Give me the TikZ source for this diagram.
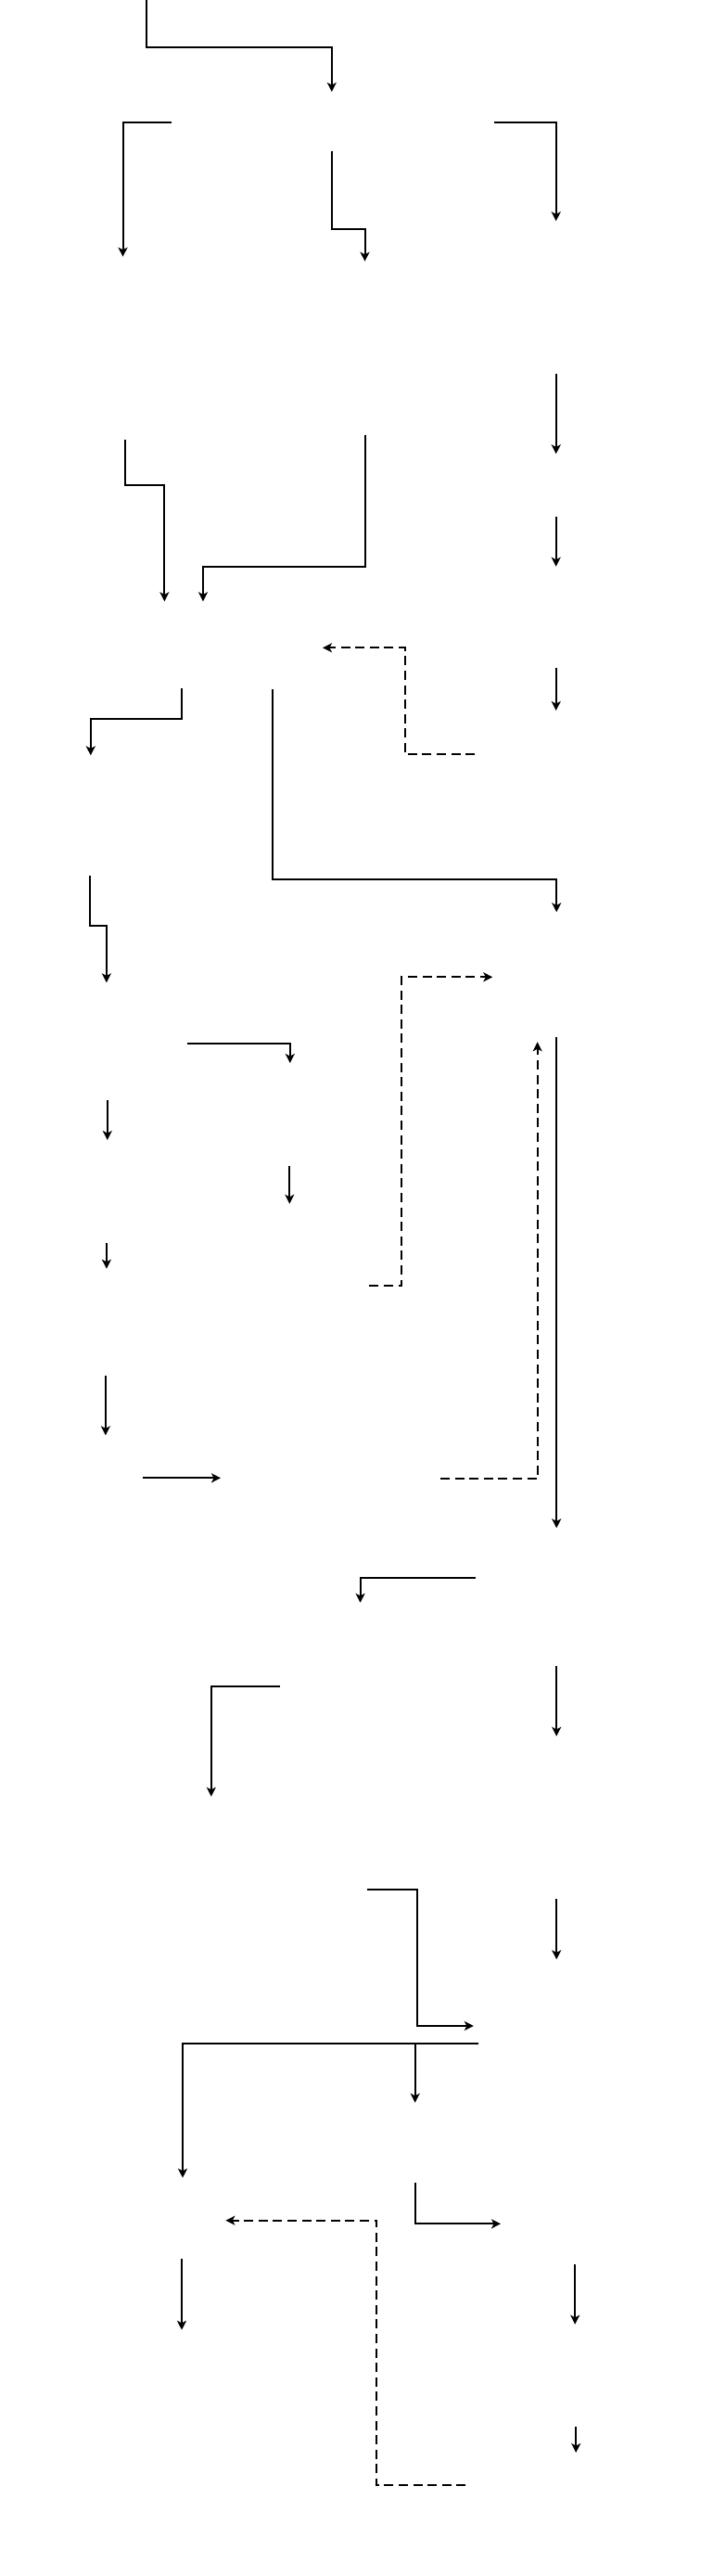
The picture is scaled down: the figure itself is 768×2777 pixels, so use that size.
\documentclass[tikz,border=0pt]{standalone}
\usetikzlibrary{arrows.meta}
\begin{document}
\begin{tikzpicture}[x=0.5pt,y=-0.5pt,
  conn/.style={line width=1pt,-{Stealth[length=5pt,width=5pt,inset=1.3pt]}},
  dconn/.style={conn,dash pattern=on 5pt off 2.8pt}]
\useasboundingbox (0,0) rectangle (768,2777);
% connector end points (nodes carry no visible text)
\coordinate (a1) at (158.4,0);     \coordinate (b1) at (357.8,99);
\coordinate (a2) at (184.7,132);   \coordinate (b2) at (132.5,276.7);
\coordinate (a3) at (357.8,162.7); \coordinate (b3) at (393.5,281.7);
\coordinate (a4) at (532.7,132);   \coordinate (b4) at (599.7,238.3);
\coordinate (a5) at (599.7,403.3); \coordinate (b5) at (599.7,489.3);
\coordinate (a6) at (135.4,474);   \coordinate (b6) at (177.4,648.3);
\coordinate (a7) at (393.5,469.3); \coordinate (b7) at (219,648.3);
\coordinate (a8) at (599.7,557.3); \coordinate (b8) at (599.7,610.7);
\coordinate (a9) at (512.2,813.3); \coordinate (b9) at (348,698.3);
\coordinate (a10) at (599.7,720);  \coordinate (b10) at (599.7,766);
\coordinate (a11) at (195.5,742.3);\coordinate (b11) at (97.8,814.3);
\coordinate (a12) at (293.7,743.3);\coordinate (b12) at (600.2,983.3);
\coordinate (a13) at (96.8,943.7); \coordinate (b13) at (114.9,1059.3);
\coordinate (a14) at (398.3,1386); \coordinate (b14) at (531.3,1053.3);
\coordinate (a15) at (201.9,1125.3);\coordinate (b15) at (312.8,1146);
\coordinate (a16) at (115.8,1185.7);\coordinate (b16) at (115.8,1229);
\coordinate (a17) at (312.3,1257); \coordinate (b17) at (312.3,1297.7);
\coordinate (a18) at (114.9,1340); \coordinate (b18) at (114.9,1367.7);
\coordinate (a19) at (475,1594.3); \coordinate (b19) at (579.7,1123.3);
\coordinate (a20) at (600.2,1118.3);\coordinate (b20) at (600.2,1647.3);
\coordinate (a21) at (113.9,1483); \coordinate (b21) at (113.9,1547.3);
\coordinate (a22) at (153.5,1593.3);\coordinate (b22) at (238,1593.3);
\coordinate (a23) at (512.7,1701); \coordinate (b23) at (388.6,1727.7);
\coordinate (a24) at (600.2,1796); \coordinate (b24) at (600.2,1871.7);
\coordinate (a25) at (301.6,1817.7);\coordinate (b25) at (227.8,1936.7);
\coordinate (a26) at (396.4,2037); \coordinate (b26) at (510.8,2184);
\coordinate (a27) at (600.2,2047); \coordinate (b27) at (600.2,2112.3);
\coordinate (a28) at (516.1,2203.3);\coordinate (b28) at (197,2347.7);
\coordinate (a29) at (447.7,2203.3);\coordinate (b29) at (447.7,2266.7);
\coordinate (a30) at (447.7,2353.3);\coordinate (b30) at (540,2397.3);
\coordinate (a31) at (502.4,2679.3);\coordinate (b31) at (243.4,2393.7);
\coordinate (a32) at (196,2435.3); \coordinate (b32) at (196,2511.7);
\coordinate (a33) at (620.2,2441.3);\coordinate (b33) at (620.2,2505.7);
\coordinate (a34) at (621.2,2615.7);\coordinate (b34) at (621.2,2644);
% connectors
\draw[conn] (a1) -- (158.4,51.3) -- (357.8,51.3) -- (b1);
\draw[conn] (a2) -| (b2);
\draw[conn] (a3) -- (357.8,246.7) -- (393.5,246.7) -- (b3);
\draw[conn] (a4) -| (b4);
\draw[conn] (a5) -- (b5);
\draw[conn] (a6) -- (135.4,522.7) -- (177.4,522.7) -- (b6);
\draw[conn] (a7) -- (393.5,611) -- (219,611) -- (b7);
\draw[conn] (a8) -- (b8);
\draw[dconn] (a9) -- (436.5,813.3) -- (436.5,698.3) -- (b9);
\draw[conn] (a10) -- (b10);
\draw[conn] (a11) -- (195.5,775) -- (97.8,775) -- (b11);
\draw[conn] (a12) -- (293.7,947.7) -- (600.2,947.7) -- (b12);
\draw[conn] (a13) -- (96.8,997.7) -- (114.9,997.7) -- (b13);
\draw[dconn] (a14) -- (433,1386) -- (433,1053.3) -- (b14);
\draw[conn] (a15) -| (b15);
\draw[conn] (a16) -- (b16);
\draw[conn] (a17) -- (b17);
\draw[conn] (a18) -- (b18);
\draw[dconn] (a19) -| (b19);
\draw[conn] (a20) -- (b20);
\draw[conn] (a21) -- (b21);
\draw[conn] (a22) -- (b22);
\draw[conn] (a23) -| (b23);
\draw[conn] (a24) -- (b24);
\draw[conn] (a25) -| (b25);
\draw[conn] (a26) -- (449.7,2037) -- (449.7,2184) -- (b26);
\draw[conn] (a27) -- (b27);
\draw[conn] (a28) -| (b28);
\draw[conn] (a29) -- (b29);
\draw[conn] (a30) |- (b30);
\draw[dconn] (a31) -- (406.2,2679.3) -- (406.2,2393.7) -- (b31);
\draw[conn] (a32) -- (b32);
\draw[conn] (a33) -- (b33);
\draw[conn] (a34) -- (b34);
\end{tikzpicture}
\end{document}
